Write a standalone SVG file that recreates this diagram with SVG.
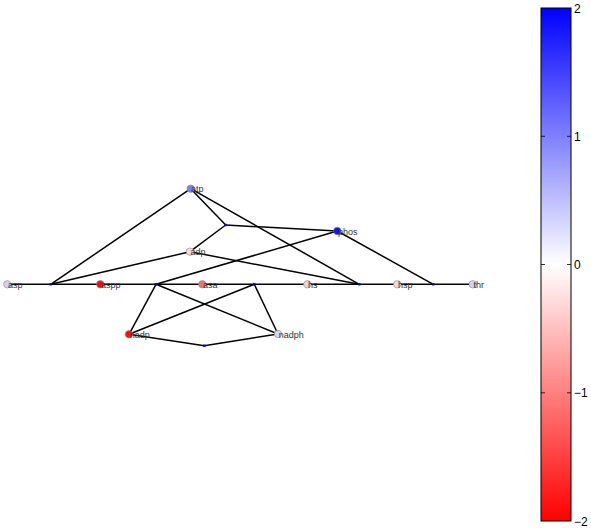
<svg xmlns="http://www.w3.org/2000/svg" width="591" height="528" viewBox="0 0 591 528">
<style>
.e{stroke:#000;stroke-width:1.5;fill:none}
.n{stroke:#888;stroke-width:0.6}
.j{fill:#0000ff}
.l{font-family:"Liberation Sans",Arial,sans-serif;font-size:9px;fill:#333}
.t{font-family:"Liberation Sans",Arial,sans-serif;font-size:12px;fill:#000}
</style>
<defs>
<linearGradient id="cb" x1="0" y1="0" x2="0" y2="1">
<stop offset="0" stop-color="#0000ff"/>
<stop offset="0.5" stop-color="#ffffff"/>
<stop offset="1" stop-color="#ff0000"/>
</linearGradient>
</defs>
<rect width="591" height="528" fill="#fff"/>
<g id="connectors">
<line class="e" x1="7.3" y1="284.3" x2="472.7" y2="284.3"/>
<line class="e" x1="190.7" y1="188.7" x2="50.7" y2="284.3"/>
<line class="e" x1="190.7" y1="188.7" x2="225.7" y2="225"/>
<line class="e" x1="190.7" y1="188.7" x2="359.3" y2="284.3"/>
<line class="e" x1="225.7" y1="225" x2="337.3" y2="231"/>
<line class="e" x1="225.7" y1="225" x2="190" y2="251.7"/>
<line class="e" x1="190" y1="251.7" x2="50.7" y2="284.3"/>
<line class="e" x1="190" y1="251.7" x2="359.3" y2="284.3"/>
<line class="e" x1="337.3" y1="231" x2="156" y2="284.3"/>
<line class="e" x1="337.3" y1="231" x2="433.3" y2="284.3"/>
<line class="e" x1="156" y1="284.3" x2="129" y2="334.3"/>
<line class="e" x1="156" y1="284.3" x2="278" y2="334"/>
<line class="e" x1="254.3" y1="284.3" x2="129" y2="334.3"/>
<line class="e" x1="254.3" y1="284.3" x2="278" y2="334"/>
<line class="e" x1="129" y1="334.3" x2="204.3" y2="345.7"/>
<line class="e" x1="204.3" y1="345.7" x2="278" y2="334"/>
</g>
<g id="j1"><rect class="j" x="49.5" y="283.1" width="2.4" height="2.4"/></g>
<g id="j2"><rect class="j" x="154.8" y="283.1" width="2.4" height="2.4"/></g>
<g id="j3"><rect class="j" x="253.1" y="283.1" width="2.4" height="2.4"/></g>
<g id="j4"><rect class="j" x="358.1" y="283.1" width="2.4" height="2.4"/></g>
<g id="j5"><rect class="j" x="432.1" y="283.1" width="2.4" height="2.4"/></g>
<g id="j6"><rect class="j" x="224.5" y="223.8" width="2.4" height="2.4"/></g>
<g id="j7"><rect class="j" x="203.1" y="344.5" width="2.4" height="2.4"/></g>
<g id="atp"><circle class="n" cx="190.7" cy="188.7" r="3.7" fill="#7f7fef"/><text class="l" x="191" y="192.3">atp</text></g>
<g id="adp"><circle class="n" cx="190" cy="251.7" r="3.7" fill="#fadada"/><text class="l" x="190.5" y="255.3">adp</text></g>
<g id="phos"><circle class="n" cx="337.3" cy="231" r="3.7" fill="#1010ff"/><text class="l" x="338" y="234.6">phos</text></g>
<g id="asp"><circle class="n" cx="7.3" cy="284.3" r="3.7" fill="#d2d2f8"/><text class="l" x="8" y="287.9">asp</text></g>
<g id="aspp"><circle class="n" cx="100.3" cy="284.3" r="3.7" fill="#ff0505"/><text class="l" x="101" y="287.9">aspp</text></g>
<g id="asa"><circle class="n" cx="202.3" cy="284.3" r="3.7" fill="#f07272"/><text class="l" x="203" y="287.9">asa</text></g>
<g id="hs"><circle class="n" cx="307.3" cy="284.3" r="3.7" fill="#f8d2d2"/><text class="l" x="308" y="287.9">hs</text></g>
<g id="hsp"><circle class="n" cx="397.3" cy="284.3" r="3.7" fill="#f8d8d8"/><text class="l" x="398" y="287.9">hsp</text></g>
<g id="thr"><circle class="n" cx="472.7" cy="284.3" r="3.7" fill="#d2d2f8"/><text class="l" x="473.4" y="287.9">thr</text></g>
<g id="nadp"><circle class="n" cx="129" cy="334.3" r="3.7" fill="#ff0a0a"/><text class="l" x="129.7" y="337.9">nadp</text></g>
<g id="nadph"><circle class="n" cx="278" cy="334" r="3.7" fill="#d4d4f4"/><text class="l" x="278.7" y="337.6">nadph</text></g>
<g id="colorbar">
<rect x="541" y="8" width="30" height="513" fill="url(#cb)" stroke="#000" stroke-width="1"/>
<g stroke="#000" stroke-width="0.8">
<line x1="541" y1="136.3" x2="545" y2="136.3"/><line x1="567" y1="136.3" x2="571" y2="136.3"/>
<line x1="541" y1="264.5" x2="545" y2="264.5"/><line x1="567" y1="264.5" x2="571" y2="264.5"/>
<line x1="541" y1="392.8" x2="545" y2="392.8"/><line x1="567" y1="392.8" x2="571" y2="392.8"/>
</g>
<text class="t" x="574" y="12.5">2</text>
<text class="t" x="574" y="140.8">1</text>
<text class="t" x="574" y="269">0</text>
<text class="t" x="574" y="397.3">−1</text>
<text class="t" x="574" y="525.5">−2</text>
</g>
</svg>
